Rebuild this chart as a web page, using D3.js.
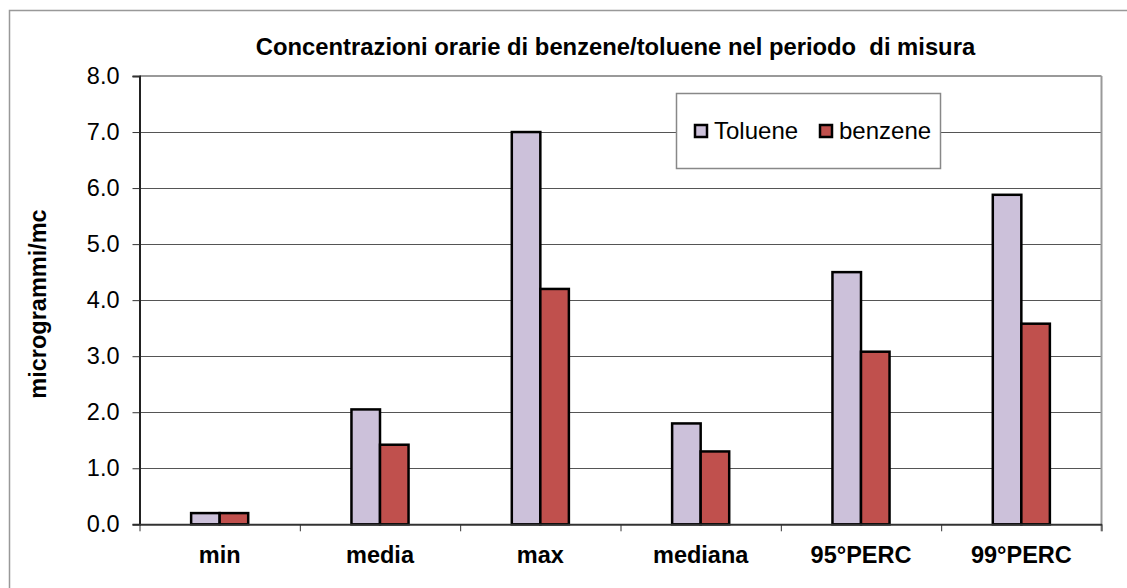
<!DOCTYPE html>
<html>
<head>
<meta charset="utf-8">
<script src="https://cdn.jsdelivr.net/npm/d3@7"></script>
<style>
  body { margin: 0; background: #fff; }
  text { font-family: "Liberation Sans", Arial, sans-serif; fill: #000; }
</style>
</head>
<body>
<div id="chart"></div>
<script>
// data
var categories = ["min", "media", "max", "mediana", "95°PERC", "99°PERC"];
var seriesNames = ["Toluene", "benzene"];
var toluene = [0.2, 2.05, 7.0, 1.8, 4.5, 5.88];
var benzene = [0.2, 1.42, 4.2, 1.3, 3.08, 3.58];
var yTicks = [0, 1, 2, 3, 4, 5, 6, 7, 8];
var colors = ["#CCC1DA", "#C0504D"];

var svgWidth = 1127;
var svgHeight = 588;

var margin = { top: 76, right: 25.5, bottom: 63.7, left: 139.5 };
var width = svgWidth - margin.left - margin.right;
var height = svgHeight - margin.top - margin.bottom;

var svg = d3.select("#chart")
    .append("svg")
    .attr("width", svgWidth)
    .attr("height", svgHeight);

// outer chart frame (runs off the right and bottom of the picture)
svg.append("rect")
    .attr("x", 9.5)
    .attr("y", 10.5)
    .attr("width", 1140)
    .attr("height", 600)
    .attr("fill", "none")
    .attr("stroke", "#999")
    .attr("stroke-width", 1.5);

var chartGroup = svg.append("g")
    .attr("transform", `translate(${margin.left}, ${margin.top})`);

var data = categories.map(function (c, i) {
    return { cat: c, values: [toluene[i], benzene[i]] };
});

// scales
var yScale = d3.scaleLinear()
    .domain([0, 8])
    .range([height, 0]);

var x0 = d3.scaleBand()
    .domain(categories)
    .range([0, width])
    .paddingInner(0.644)
    .paddingOuter(0.322);

var x1 = d3.scaleBand()
    .domain(seriesNames)
    .range([0, x0.bandwidth()]);

var xEdges = d3.scaleLinear()
    .domain([0, categories.length])
    .range([0, width]);

// gridlines
chartGroup.append("g")
    .selectAll("line")
    .data(yTicks.slice(1, -1))
    .enter()
    .append("line")
    .attr("x1", 0)
    .attr("x2", width)
    .attr("y1", d => Math.round(yScale(d)) + 0.5)
    .attr("y2", d => Math.round(yScale(d)) + 0.5)
    .attr("stroke", "#555")
    .attr("stroke-width", 1);

// top and right border of the plot area
chartGroup.append("line")
    .attr("x1", 0).attr("x2", width)
    .attr("y1", 0).attr("y2", 0)
    .attr("stroke", "#999").attr("stroke-width", 2);
chartGroup.append("line")
    .attr("x1", width).attr("x2", width)
    .attr("y1", 0).attr("y2", height + 7)
    .attr("stroke", "#999").attr("stroke-width", 2);

// legend box (drawn over the 7.0 gridline)
var legend = svg.append("g");
legend.append("rect")
    .attr("x", 676.5).attr("y", 93.5)
    .attr("width", 264).attr("height", 75)
    .attr("fill", "#fff")
    .attr("stroke", "#888")
    .attr("stroke-width", 1.5);

var legendX = [694, 819];
seriesNames.forEach(function (name, i) {
    legend.append("rect")
        .attr("x", legendX[i] + 1).attr("y", 125)
        .attr("width", 12).attr("height", 12)
        .attr("fill", colors[i])
        .attr("stroke", "#000")
        .attr("stroke-width", 2.5);
    legend.append("text")
        .attr("x", legendX[i] + 20)
        .attr("y", 139)
        .style("font-size", "24px")
        .text(name);
});

// bars
var groups = chartGroup.selectAll(".cat")
    .data(data)
    .enter()
    .append("g")
    .attr("transform", d => `translate(${x0(d.cat)}, 0)`);

groups.selectAll("rect")
    .data(d => d.values.map((v, i) => ({ name: seriesNames[i], value: v, idx: i })))
    .enter()
    .append("rect")
    .attr("x", d => x1(d.name))
    .attr("y", d => yScale(d.value))
    .attr("width", x1.bandwidth())
    .attr("height", d => height - yScale(d.value))
    .attr("fill", d => colors[d.idx])
    .attr("stroke", "#000")
    .attr("stroke-width", 2.5);

// y axis
var leftAxis = d3.axisLeft(yScale)
    .tickValues(yTicks)
    .tickFormat(d3.format(".1f"))
    .tickSize(7)
    .tickPadding(13);

var yAxisG = chartGroup.append("g").call(leftAxis);
yAxisG.select(".domain").attr("stroke", "#222").attr("stroke-width", 2);
yAxisG.selectAll(".tick line").attr("stroke", "#333");
yAxisG.selectAll("text")
    .style("font-size", "23.5px")
    .style("font-family", "'Liberation Sans', Arial, sans-serif");

// x axis: boundary ticks
var edgeAxis = d3.axisBottom(xEdges)
    .tickValues(d3.range(categories.length + 1))
    .tickFormat("")
    .tickSize(7)
    .tickSizeOuter(0);

var xAxisG = chartGroup.append("g")
    .attr("transform", `translate(0, ${height})`)
    .call(edgeAxis);
xAxisG.select(".domain").attr("stroke", "#333").attr("stroke-width", 2);
xAxisG.selectAll(".tick line").attr("stroke", "#333");

// category labels
var labelAxis = d3.axisBottom(x0).tickSize(0).tickPadding(22);
var labelG = chartGroup.append("g")
    .attr("transform", `translate(0, ${height})`)
    .call(labelAxis);
labelG.select(".domain").remove();
labelG.selectAll("text")
    .style("font-size", "23.5px")
    .style("font-weight", "bold")
    .style("font-family", "'Liberation Sans', Arial, sans-serif");

// title
svg.append("text")
    .attr("x", 615.5)
    .attr("y", 55)
    .attr("text-anchor", "middle")
    .style("font-size", "23.8px")
    .style("font-weight", "bold")
    .style("white-space", "pre")
    .text("Concentrazioni orarie di benzene/toluene nel periodo  di misura");

// y axis title
svg.append("text")
    .attr("transform", "translate(46, 304) rotate(-90)")
    .attr("text-anchor", "middle")
    .style("font-size", "23.5px")
    .style("font-weight", "bold")
    .text("microgrammi/mc");
</script>
</body>
</html>
